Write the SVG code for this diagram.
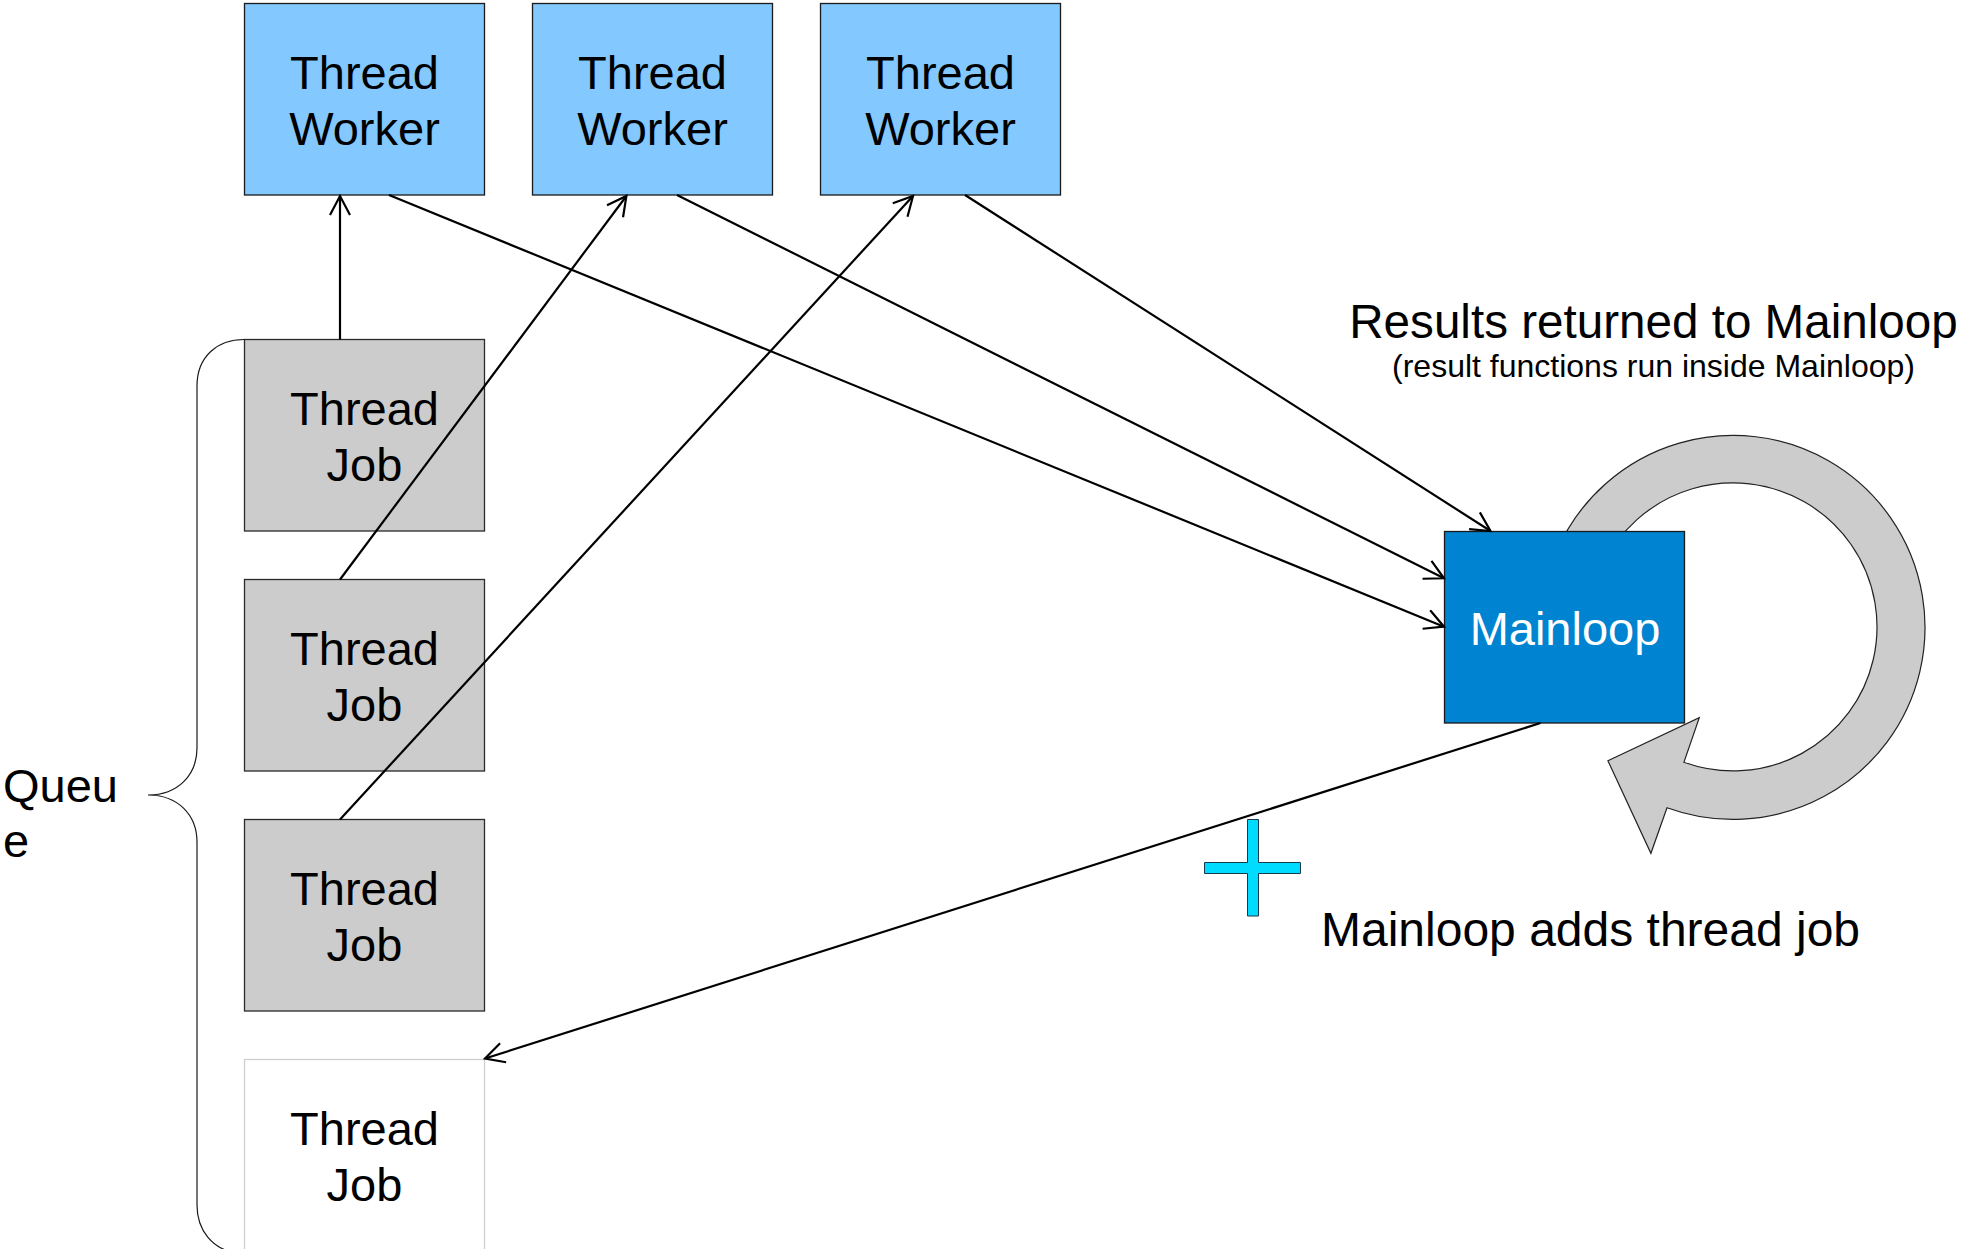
<svg xmlns="http://www.w3.org/2000/svg" width="1962" height="1249" viewBox="0 0 1962 1249">
  <style>
    text { font-family: "Liberation Sans", Arial, sans-serif; fill: #000; }
    .lbl { font-size: 47px; text-anchor: middle; }
    .worker rect { fill: #83C9FF; stroke: #1a1a1a; stroke-width: 1.3; }
    .job rect { fill: #CCCCCC; stroke: #2a2a2a; stroke-width: 1.3; }
    .job.pending rect { fill: #FFFFFF; stroke: #CFCFCF; }
    .conn line { stroke: #000; stroke-width: 2.2; fill: none; }
    .arrow line { marker-end: url(#open); }
  </style>
  <defs>
    <marker id="open" markerUnits="userSpaceOnUse" markerWidth="24" markerHeight="24" viewBox="0 0 24 24" refX="20" refY="11" orient="auto">
      <path d="M1,1 L20,11 L1,21" fill="none" stroke="#000" stroke-width="2.2"/>
    </marker>
  </defs>

  <rect x="0" y="0" width="1962" height="1249" fill="#FFFFFF"/>

  <!-- loop arrow around the main loop (drawn first so the box sits on top) -->
  <g id="loop-arrow">
    <path d="M1541,627 A192,192 0 1 1 1667,807.7 L1650.9,853.3 L1607.9,760.7 L1699.3,717.7 L1683.9,762.3 A144,144 0 1 0 1589,627 Z"
          fill="#CCCCCC" stroke="#222" stroke-width="1.2"/>
  </g>

  <!-- worker threads -->
  <g id="worker-1" class="worker">
    <rect x="244.5" y="3.5" width="240" height="191.5"/>
    <text class="lbl" x="364.5" y="89">Thread</text>
    <text class="lbl" x="364.5" y="145">Worker</text>
  </g>
  <g id="worker-2" class="worker">
    <rect x="532.5" y="3.5" width="240" height="191.5"/>
    <text class="lbl" x="652.5" y="89">Thread</text>
    <text class="lbl" x="652.5" y="145">Worker</text>
  </g>
  <g id="worker-3" class="worker">
    <rect x="820.5" y="3.5" width="240" height="191.5"/>
    <text class="lbl" x="940.5" y="89">Thread</text>
    <text class="lbl" x="940.5" y="145">Worker</text>
  </g>

  <!-- queued jobs -->
  <g id="job-1" class="job">
    <rect x="244.5" y="339.5" width="240" height="191.5"/>
    <text class="lbl" x="364.5" y="425">Thread</text>
    <text class="lbl" x="364.5" y="481">Job</text>
  </g>
  <g id="job-2" class="job">
    <rect x="244.5" y="579.5" width="240" height="191.5"/>
    <text class="lbl" x="364.5" y="665">Thread</text>
    <text class="lbl" x="364.5" y="721">Job</text>
  </g>
  <g id="job-3" class="job">
    <rect x="244.5" y="819.5" width="240" height="191.5"/>
    <text class="lbl" x="364.5" y="905">Thread</text>
    <text class="lbl" x="364.5" y="961">Job</text>
  </g>
  <g id="job-4" class="job pending">
    <rect x="244.5" y="1059.5" width="240" height="191.5"/>
    <text class="lbl" x="364.5" y="1145">Thread</text>
    <text class="lbl" x="364.5" y="1201">Job</text>
  </g>

  <!-- queue brace and label -->
  <g id="queue">
    <path d="M244,339.5 C218,339.5 197,356 197,386 L197,748 C197,775 178,795 148,795 C178,795 197,815 197,842 L197,1205 C197,1232 214,1248 232,1252"
          fill="none" stroke="#1a1a1a" stroke-width="1.2"/>
    <text x="3" y="802" font-size="47">Queu</text>
    <text x="3" y="857" font-size="47">e</text>
  </g>

  <!-- main loop -->
  <g id="mainloop">
    <rect x="1444.5" y="531.5" width="240" height="191.5" fill="#0083D0" stroke="#1a1a1a" stroke-width="1.3"/>
    <text class="lbl" x="1565" y="645" style="fill:#FFFFFF">Mainloop</text>
  </g>

  <!-- add-job marker -->
  <g id="plus">
    <path d="M1247.5,819.5 H1258.5 V862.5 H1300.5 V873.5 H1258.5 V916 H1247.5 V873.5 H1204.5 V862.5 H1247.5 Z"
          fill="#00DCFF" stroke="#1a3a4a" stroke-width="1"/>
  </g>

  <!-- captions -->
  <g id="captions">
    <text x="1653.5" y="338" font-size="47.6" text-anchor="middle">Results returned to Mainloop</text>
    <text x="1653.5" y="377" font-size="32" text-anchor="middle">(result functions run inside Mainloop)</text>
    <text x="1321" y="946" font-size="48">Mainloop adds thread job</text>
  </g>

  <!-- connectors -->
  <g id="connectors" class="conn arrow">
    <line x1="340" y1="339.5" x2="340" y2="196"/>
    <line x1="340" y1="579.5" x2="626.4" y2="196"/>
    <line x1="340" y1="819.5" x2="913" y2="196"/>
    <line x1="389" y1="195" x2="1444" y2="626.7"/>
    <line x1="677" y1="195" x2="1444" y2="578.3"/>
    <line x1="965" y1="195" x2="1490.5" y2="531"/>
    <line x1="1540.5" y1="723" x2="485" y2="1058.5"/>
  </g>
</svg>
